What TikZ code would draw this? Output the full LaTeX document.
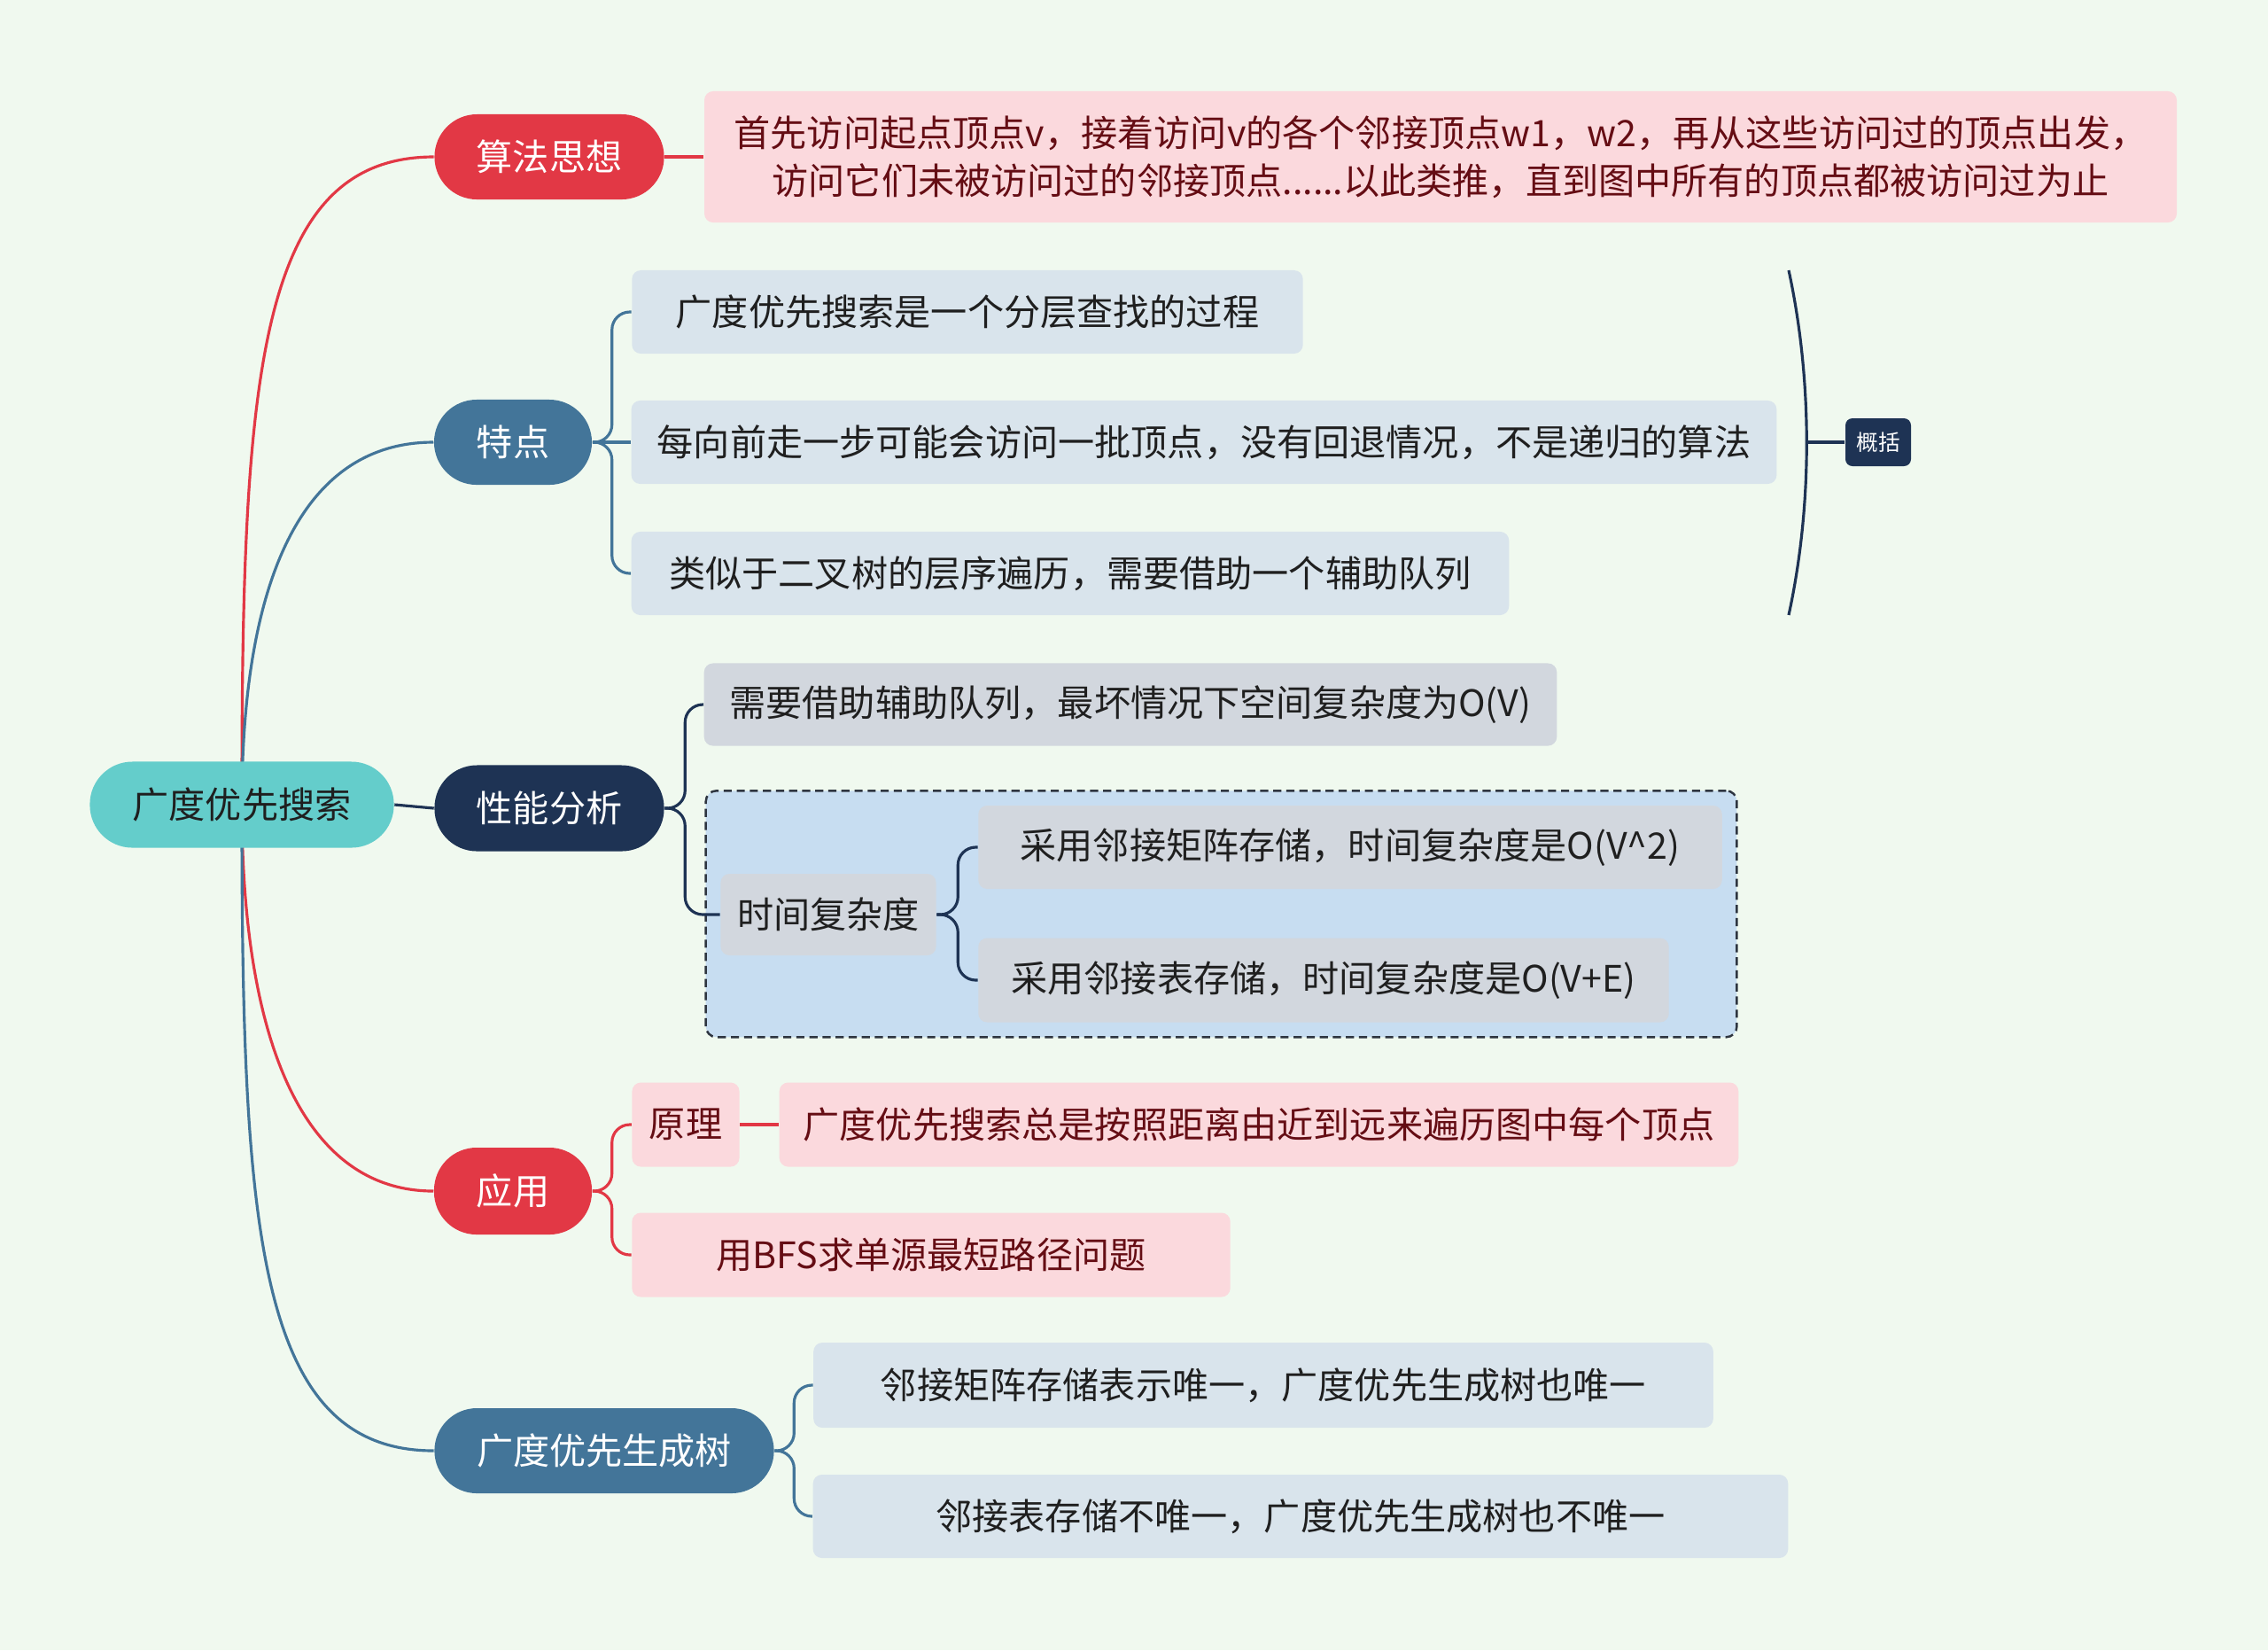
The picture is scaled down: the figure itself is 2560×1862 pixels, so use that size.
\documentclass[tikz,border=0pt]{standalone}
\usepackage{fontspec}
\setmainfont{Noto Sans CJK SC}
\usepackage{xcolor}
\usepackage{tikz}
\usetikzlibrary{fit}
\definecolor{bgmint}{HTML}{F0F9EF}
\definecolor{rootteal}{HTML}{64CDCB}
\definecolor{redbr}{HTML}{E23845}
\definecolor{bluebr}{HTML}{437599}
\definecolor{navybr}{HTML}{1E3354}
\definecolor{pinkleaf}{HTML}{FBD9DD}
\definecolor{pinktext}{HTML}{650D14}
\definecolor{blueleaf}{HTML}{D9E4EC}
\definecolor{greyleaf}{HTML}{D2D7DE}
\definecolor{groupfill}{HTML}{C7DDF1}
\definecolor{groupline}{HTML}{2E3540}
\definecolor{darktext}{HTML}{1F1F1F}
\pgfdeclarelayer{back}
\pgfdeclarelayer{wires}
\pgfsetlayers{back,wires,main}

\begin{document}
\begin{tikzpicture}[x=0.01cm, y=-0.01cm,
    font=\fontsize{11.7pt}{15.4pt}\selectfont,
    topic/.style={rounded corners=0.48cm, minimum height=0.96cm, inner sep=0pt, text=white},
    leaf/.style={rounded corners=0.1cm, minimum height=0.94cm, inner sep=0pt, text=darktext},
    wire/.style={line width=0.9pt},
    fork/.style={line width=0.9pt, rounded corners=0.2cm}]
    \useasboundingbox (0,0) rectangle (2560,1862);

    % Root
    \node[topic, fill=rootteal, text=darktext, minimum width=3.43cm, minimum height=0.97cm] (root) at (273,908) {广度优先搜索};

    % Algorithm idea
    \node[topic, fill=redbr, minimum width=2.59cm] (idea) at (620,177) {算法思想};
    \node[leaf, fill=pinkleaf, text=pinktext, minimum width=16.61cm, minimum height=1.48cm, align=center] (ideatxt) at (1626,177) {首先访问起点顶点v，接着访问v的各个邻接顶点w1，w2，再从这些访问过的顶点出发，\\访问它们未被访问过的邻接顶点......以此类推，直到图中所有的顶点都被访问过为止};

    % Features
    \node[topic, fill=bluebr, minimum width=1.78cm] (feat) at (579,499) {特点};
    \node[leaf, fill=blueleaf, minimum width=7.57cm] (feata) at (1092,352) {广度优先搜索是一个分层查找的过程};
    \node[leaf, fill=blueleaf, minimum width=12.92cm] (featb) at (1359,499) {每向前走一步可能会访问一批顶点，没有回退情况，不是递归的算法};
    \node[leaf, fill=blueleaf, minimum width=9.90cm] (featc) at (1208,647) {类似于二叉树的层序遍历，需要借助一个辅助队列};

    % Summary
    \coordinate (brtop) at (2019,305);
    \coordinate (brbot) at (2019,694);
    \coordinate (brmid) at (2039,499);
    \node[fill=navybr, text=white, rounded corners=0.08cm, minimum width=0.74cm, minimum height=0.54cm, inner sep=0pt, font=\fontsize{7pt}{8pt}\selectfont] (summ) at (2120,499) {概括};

    % Performance
    \node[topic, fill=navybr, minimum width=2.59cm, minimum height=0.97cm] (perf) at (620,912) {性能分析};
    \node[leaf, fill=greyleaf, minimum width=9.62cm, minimum height=0.93cm] (space) at (1276,795) {需要借助辅助队列，最坏情况下空间复杂度为O(V)};
    \node[leaf, fill=greyleaf, minimum width=2.43cm, minimum height=0.92cm] (time) at (935,1032) {时间复杂度};
    \node[leaf, fill=greyleaf, minimum width=8.39cm] (timea) at (1524,956) {采用邻接矩阵存储，时间复杂度是O(V\textasciicircum{}2)};
    \node[leaf, fill=greyleaf, minimum width=7.79cm, minimum height=0.95cm] (timeb) at (1494,1106) {采用邻接表存储，时间复杂度是O(V+E)};

    % Application
    \node[topic, fill=redbr, minimum width=1.78cm, minimum height=0.98cm] (app) at (579,1344) {应用};
    \node[leaf, fill=pinkleaf, text=pinktext, minimum width=1.21cm, minimum height=0.95cm] (princ) at (774,1269) {原理};
    \node[leaf, fill=pinkleaf, text=pinktext, minimum width=10.82cm, minimum height=0.95cm] (princtxt) at (1421,1269) {广度优先搜索总是按照距离由近到远来遍历图中每个顶点};
    \node[leaf, fill=pinkleaf, text=pinktext, minimum width=6.75cm, minimum height=0.95cm] (apptxt) at (1051,1416) {用BFS求单源最短路径问题};

    % Spanning tree
    \node[topic, fill=bluebr, minimum width=3.83cm] (tree) at (682,1637) {广度优先生成树};
    \node[leaf, fill=blueleaf, minimum width=10.15cm, minimum height=0.96cm] (treea) at (1426,1563) {邻接矩阵存储表示唯一，广度优先生成树也唯一};
    \node[leaf, fill=blueleaf, minimum width=11.00cm] (treeb) at (1468,1711) {邻接表存储不唯一，广度优先生成树也不唯一};

    % Background and group frame
    \begin{pgfonlayer}{back}
        \fill[bgmint] (0,0) rectangle (2560,1862);
        \node[draw=groupline, fill=groupfill, line width=0.7pt, dash pattern=on 2.6pt off 1.6pt, rounded corners=0.12cm, inner sep=0.16cm, fit=(time)(timea)(timeb)] (timegroup) {};
    \end{pgfonlayer}

    % Connections
    \begin{pgfonlayer}{wires}
        \draw[wire, redbr] (root.center) .. controls +(0,-480) and +(-200,0) .. (idea.west);
        \draw[wire, bluebr] (root.center) .. controls +(0,-250) and +(-150,0) .. (feat.west);
        \draw[wire, navybr] (root.east) -- (perf.west);
        \draw[wire, redbr] (root.center) .. controls +(0,260) and +(-150,0) .. (app.west);
        \draw[wire, bluebr] (root.center) .. controls +(0,480) and +(-200,0) .. (tree.west);

        \draw[wire, redbr] (idea.east) -- (ideatxt.west);

        \draw[fork, bluebr] (feat.east) -- ++(22,0) |- (feata.west);
        \draw[wire, bluebr] (feat.east) -- (featb.west);
        \draw[fork, bluebr] (feat.east) -- ++(22,0) |- (featc.west);

        \draw[wire, navybr] (brtop) .. controls (2046,430) and (2046,570) .. (brbot);
        \draw[wire, navybr] (brmid) -- (summ.west);

        \draw[fork, navybr] (perf.east) -- ++(23,0) |- (space.west);
        \draw[fork, navybr] (perf.east) -- ++(23,0) |- (time.west);
        \draw[fork, navybr] (time.east) -- ++(24,0) |- (timea.west);
        \draw[fork, navybr] (time.east) -- ++(24,0) |- (timeb.west);

        \draw[fork, redbr] (app.east) -- ++(22,0) |- (princ.west);
        \draw[fork, redbr] (app.east) -- ++(22,0) |- (apptxt.west);
        \draw[wire, redbr] (princ.east) -- (princtxt.west);

        \draw[fork, bluebr] (tree.east) -- ++(22,0) |- (treea.west);
        \draw[fork, bluebr] (tree.east) -- ++(22,0) |- (treeb.west);
    \end{pgfonlayer}
\end{tikzpicture}
\end{document}
